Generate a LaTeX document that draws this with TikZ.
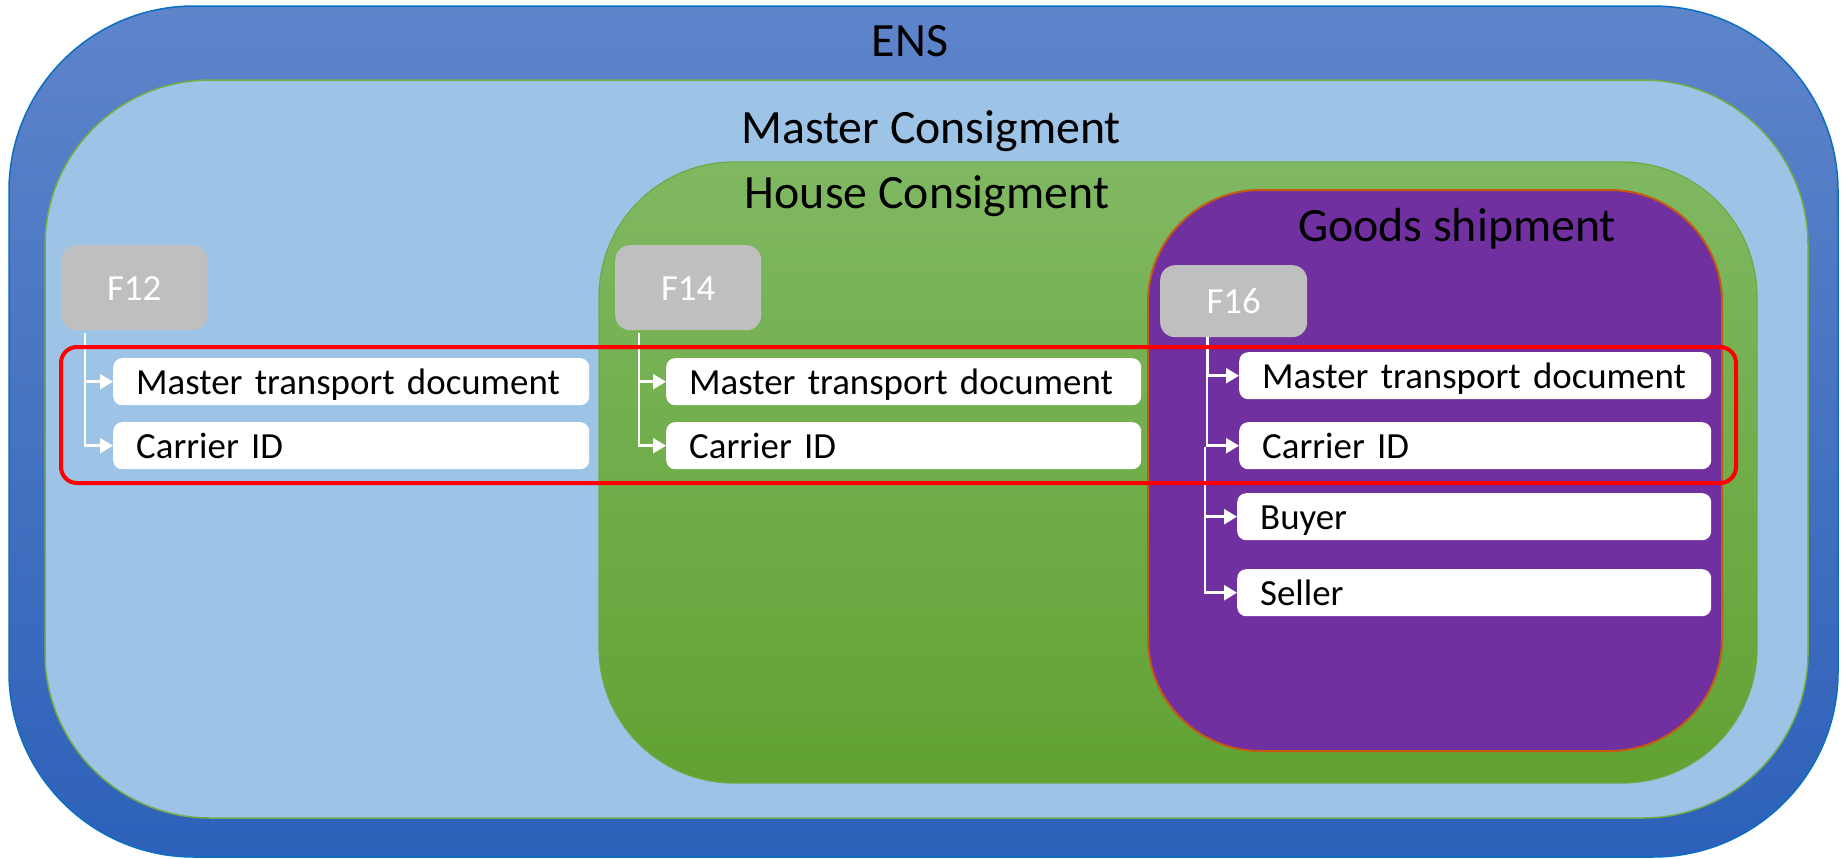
\documentclass[tikz,border=0pt]{standalone}
\usepackage{fontspec}
\setmainfont{Carlito}
\usetikzlibrary{arrows.meta}
\definecolor{ensTop}{HTML}{5E84CA}
\definecolor{ensBot}{HTML}{2D61B9}
\definecolor{ensLine}{HTML}{0A6FC2}
\definecolor{mcFill}{HTML}{9DC3E6}
\definecolor{mcLine}{HTML}{70AD47}
\definecolor{hcTop}{HTML}{80B862}
\definecolor{hcBot}{HTML}{61A233}
\definecolor{hcLine}{HTML}{6DAA48}
\definecolor{gsFill}{HTML}{7030A0}
\definecolor{gsLine}{HTML}{C55A11}
\definecolor{fGray}{HTML}{BFBFBF}
\begin{document}
\begin{tikzpicture}[x=1bp,y=-1bp,
  title/.style={anchor=base, font=\fontsize{48}{52}\selectfont, text=black, inner sep=0},
  fbox/.style={anchor=north west, fill=fGray, rounded corners=15bp, inner sep=0,
    text=white, font=\fontsize{37}{40}\selectfont, text height=28bp, text depth=3bp},
  item/.style={anchor=north west, fill=white, rounded corners=9bp, inner xsep=23bp, inner ysep=0,
    minimum height=47bp, text=black, font=\fontsize{37}{40}\selectfont, align=left,
    text height=28bp, text depth=3bp},
  conn/.style={draw=white, line width=2.5bp, -{Triangle[length=13bp,width=15bp]}},
]
\useasboundingbox (0,0) rectangle (1841,859);
\fill[white] (0,0) rectangle (1841,859);
% containers
\shade[top color=ensTop, bottom color=ensBot, draw=ensLine, line width=1.5bp, rounded corners=185bp]
  (9,6) rectangle (1838,857);
\path[fill=mcFill, draw=mcLine, line width=1.5bp, rounded corners=165bp]
  (45,80) rectangle (1808,818);
\shade[top color=hcTop, bottom color=hcBot, draw=hcLine, line width=1.2bp, rounded corners=135bp]
  (599,162) rectangle (1757,783);
\path[fill=gsFill, draw=gsLine, line width=2bp, rounded corners=112bp]
  (1148,190) rectangle (1722,751);
% titles
\node[title] (tEns) at (910,56) {ENS};
\node[title] (tMc) at (931,143) {Master Consigment};
\node[title] (tHc) at (927,208) {House Consigment};
\node[title] (tGs) at (1457,241) {Goods shipment};
% F boxes
\node[fbox, minimum width=146bp, minimum height=85bp] (f12) at (61,245) {F12};
\node[fbox, minimum width=146bp, minimum height=85bp] (f14) at (615,245) {F14};
\node[fbox, minimum width=147bp, minimum height=72bp] (f16) at (1160,265) {F16};
% items
\node[item, text width=430bp] (m12) at (113,358) {Master transport document};
\node[item, text width=430bp] (c12) at (113,422) {Carrier ID};
\node[item, text width=429bp] (m14) at (666,358) {Master transport document};
\node[item, text width=429bp] (c14) at (666,422) {Carrier ID};
\node[item, text width=426bp] (m16) at (1239,352) {Master transport document};
\node[item, text width=426bp] (c16) at (1239,422) {Carrier ID};
\node[item, text width=428bp] (b16) at (1237,493) {Buyer};
\node[item, text width=428bp] (s16) at (1237,569) {Seller};
% connectors
\draw[conn] ([xshift=24bp,yshift=-3bp]f12.south west) |- (m12.west);
\draw[conn] ([xshift=24bp,yshift=-3bp]f12.south west) |- (c12.west);
\draw[conn] ([xshift=24bp,yshift=-3bp]f14.south west) |- (m14.west);
\draw[conn] ([xshift=24bp,yshift=-3bp]f14.south west) |- (c14.west);
\draw[conn] ([xshift=48bp]f16.south west) |- (m16.west);
\draw[conn] ([xshift=47bp]f16.south west) |- (c16.west);
\draw[conn] ([xshift=45bp,yshift=-110bp]f16.south west) |- (b16.west);
\draw[conn] ([xshift=45bp,yshift=-110bp]f16.south west) |- (s16.west);
% red highlight
\draw[red, line width=4bp, rounded corners=16bp] (61,347) rectangle (1736,483);
\end{tikzpicture}
\end{document}
